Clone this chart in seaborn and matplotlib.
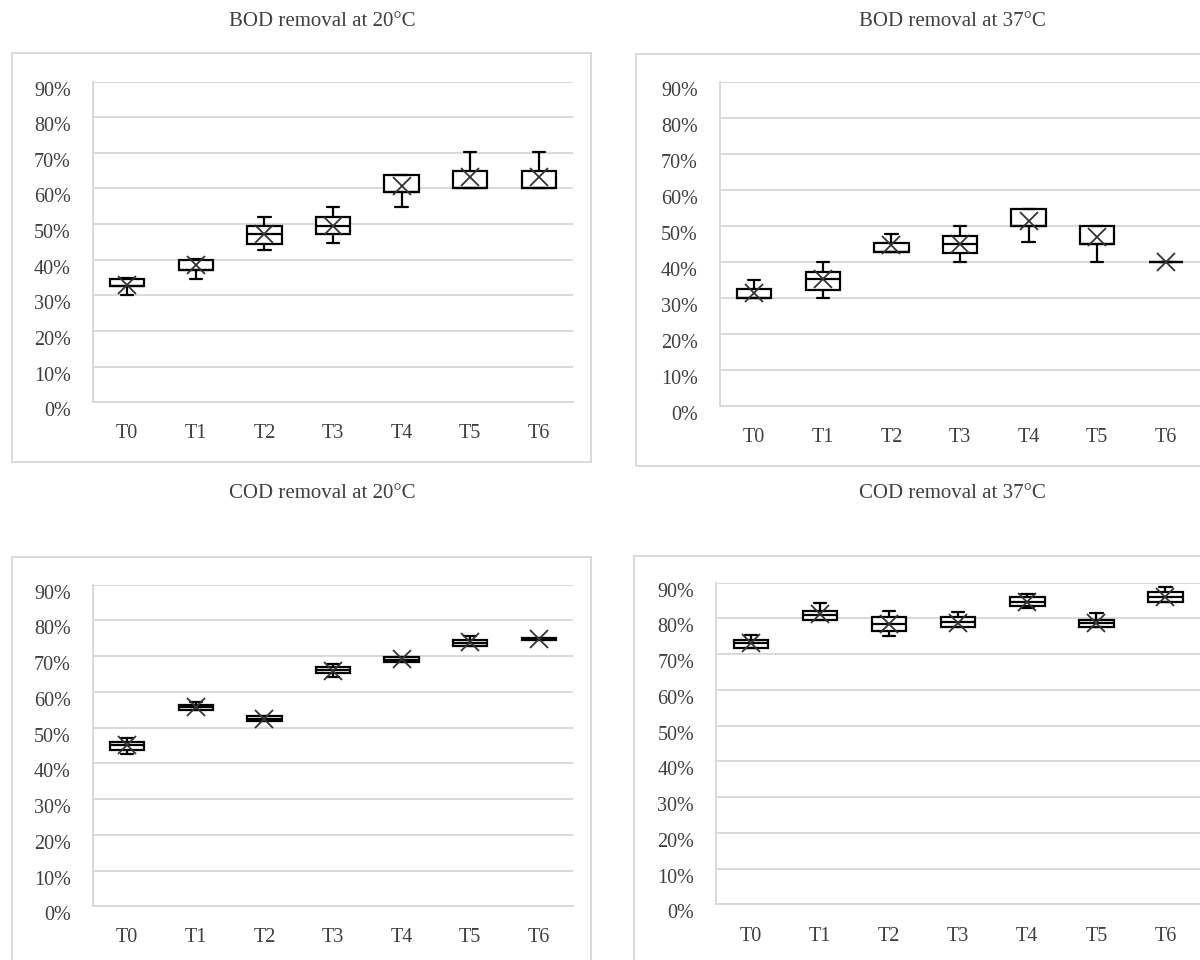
"""
Box plots of BOD / COD removal per treatment stage at 20 and 37 degrees C.
Excel-like look: white boxes, thin caps, X marker for the mean, light grid.
"""

import pandas as pd
import seaborn as sns
import matplotlib.pyplot as plt
import matplotlib.transforms as mtransforms
from matplotlib.patches import Rectangle
from matplotlib.ticker import FuncFormatter

stages = ['T0', 'T1', 'T2', 'T3', 'T4', 'T5', 'T6']

# BOD removal at 20 C (fractions)
bod20_low = [0.300, 0.347, 0.426, 0.446, 0.547, 0.601, 0.601]
bod20_q1 = [0.325, 0.372, 0.445, 0.472, 0.590, 0.601, 0.601]
bod20_med = [0.325, 0.372, 0.472, 0.496, 0.590, 0.601, 0.601]
bod20_q3 = [0.347, 0.400, 0.495, 0.521, 0.638, 0.649, 0.649]
bod20_high = [0.350, 0.402, 0.520, 0.547, 0.638, 0.703, 0.703]
bod20_mean = [0.330, 0.384, 0.472, 0.496, 0.608, 0.631, 0.631]

# BOD removal at 37 C
bod37_low = [0.300, 0.300, 0.428, 0.400, 0.456, 0.400, 0.400]
bod37_q1 = [0.300, 0.322, 0.428, 0.424, 0.500, 0.450, 0.400]
bod37_med = [0.300, 0.352, 0.428, 0.450, 0.500, 0.450, 0.400]
bod37_q3 = [0.324, 0.371, 0.451, 0.472, 0.546, 0.500, 0.400]
bod37_high = [0.350, 0.400, 0.477, 0.500, 0.546, 0.500, 0.400]
bod37_mean = [0.313, 0.352, 0.447, 0.450, 0.514, 0.470, 0.400]

# COD removal at 20 C
cod20_low = [0.427, 0.550, 0.518, 0.641, 0.683, 0.727, 0.744]
cod20_q1 = [0.438, 0.550, 0.518, 0.653, 0.683, 0.727, 0.744]
cod20_med = [0.450, 0.557, 0.525, 0.660, 0.690, 0.737, 0.747]
cod20_q3 = [0.461, 0.564, 0.531, 0.669, 0.697, 0.746, 0.750]
cod20_high = [0.472, 0.571, 0.531, 0.677, 0.697, 0.755, 0.750]
cod20_mean = [0.450, 0.557, 0.525, 0.658, 0.693, 0.740, 0.747]

# COD removal at 37 C
cod37_low = [0.718, 0.797, 0.751, 0.775, 0.828, 0.777, 0.846]
cod37_q1 = [0.718, 0.797, 0.766, 0.777, 0.835, 0.777, 0.846]
cod37_med = [0.730, 0.810, 0.784, 0.791, 0.847, 0.786, 0.859]
cod37_q3 = [0.741, 0.821, 0.803, 0.803, 0.859, 0.796, 0.874]
cod37_high = [0.755, 0.842, 0.821, 0.819, 0.868, 0.814, 0.889]
cod37_mean = [0.730, 0.812, 0.784, 0.786, 0.847, 0.786, 0.861]

titles = ['BOD removal at 20°C', 'BOD removal at 37°C',
          'COD removal at 20°C', 'COD removal at 37°C']

TEXT = '#3f3f3f'
GRID = '#d9d9d9'
SERIF = ['Liberation Serif', 'DejaVu Serif']


def make_frame(low, q1, med, q3, high):
    """Five-number summary -> long frame (one row per value) for sns.boxplot."""
    rows = []
    for i, stage in enumerate(stages):
        for v in (low[i], q1[i], med[i], q3[i], high[i]):
            rows.append({'stage': stage, 'removal': v})
    return pd.DataFrame(rows)


def draw_panel(fig, ax, low, q1, med, q3, high, mean):
    df = make_frame(low, q1, med, q3, high)
    sns.boxplot(data=df, x='stage', y='removal', order=stages, ax=ax,
                whis=(0, 100), width=0.5, color='white', linecolor='black',
                linewidth=1.6, showfliers=False, capwidths=0.18,
                medianprops={'color': 'black', 'linewidth': 1.6})

    # mean marker (Excel draws it as an X)
    df_mean = pd.DataFrame({'stage': stages, 'mean': mean})
    sns.pointplot(data=df_mean, x='stage', y='mean', order=stages, ax=ax,
                  linestyle='none', marker='x', color='#333333',
                  markersize=13, markeredgewidth=1.3, errorbar=None)
    ax.lines[-1].set_zorder(6)

    ax.set_ylim(0, 0.9)
    ax.set_xlim(-0.5, 6.5)
    ax.set_yticks([i / 10 for i in range(10)])
    ax.yaxis.set_major_formatter(FuncFormatter(lambda v, _: f'{round(v * 100)}%'))
    ax.grid(axis='y', color=GRID, linewidth=1.4)
    ax.grid(axis='x', visible=False)
    ax.set_axisbelow(True)
    ax.set_xlabel('')
    ax.set_ylabel('')
    for side in ['top', 'right']:
        ax.spines[side].set_visible(False)
    for side in ['left', 'bottom']:
        ax.spines[side].set_color(GRID)
        ax.spines[side].set_linewidth(1.4)
    ax.tick_params(axis='both', length=0, labelsize=14.5, labelcolor=TEXT)
    ax.tick_params(axis='x', pad=16)
    ax.tick_params(axis='y', pad=16)
    # percent labels sit a little below their gridline in the original
    shift = mtransforms.ScaledTranslation(0, -0.07, fig.dpi_scale_trans)
    for lab in ax.get_yticklabels():
        lab.set_family(SERIF)
        lab.set_transform(lab.get_transform() + shift)
    for lab in ax.get_xticklabels():
        lab.set_family(SERIF)


sns.set_theme(style='white')
plt.rcParams['font.family'] = SERIF

fig = plt.figure(figsize=(12, 9.6), dpi=100)

# axes positions in figure fractions (left, bottom, width, height)
ax_tl = fig.add_axes([0.0775, 0.581, 0.40, 0.334])
ax_tr = fig.add_axes([0.600, 0.577, 0.40, 0.338])
ax_bl = fig.add_axes([0.0775, 0.056, 0.40, 0.335])
ax_br = fig.add_axes([0.597, 0.058, 0.403, 0.335])

draw_panel(fig, ax_tl, bod20_low, bod20_q1, bod20_med, bod20_q3, bod20_high, bod20_mean)
draw_panel(fig, ax_tr, bod37_low, bod37_q1, bod37_med, bod37_q3, bod37_high, bod37_mean)
draw_panel(fig, ax_bl, cod20_low, cod20_q1, cod20_med, cod20_q3, cod20_high, cod20_mean)
draw_panel(fig, ax_br, cod37_low, cod37_q1, cod37_med, cod37_q3, cod37_high, cod37_mean)

# chart-area frames (pixels -> figure fractions)
W, H = 1200, 960
for x0, y0, x1, y1 in [(12, 53, 591, 462), (636, 54, 1215, 466),
                       (12, 557, 591, 975), (634, 556, 1215, 975)]:
    fig.add_artist(Rectangle((x0 / W, 1 - y1 / H), (x1 - x0) / W, (y1 - y0) / H,
                             transform=fig.transFigure, fill=False,
                             edgecolor=GRID, linewidth=1.4))

# panel titles sit outside the frames
for (cx, cy), title in zip([(322, 22), (952, 22), (322, 493), (952, 493)], titles):
    fig.text(cx / W, 1 - cy / H, title, ha='center', va='center',
             fontsize=15, color=TEXT, family=SERIF)

plt.savefig('out.png', dpi=100)
